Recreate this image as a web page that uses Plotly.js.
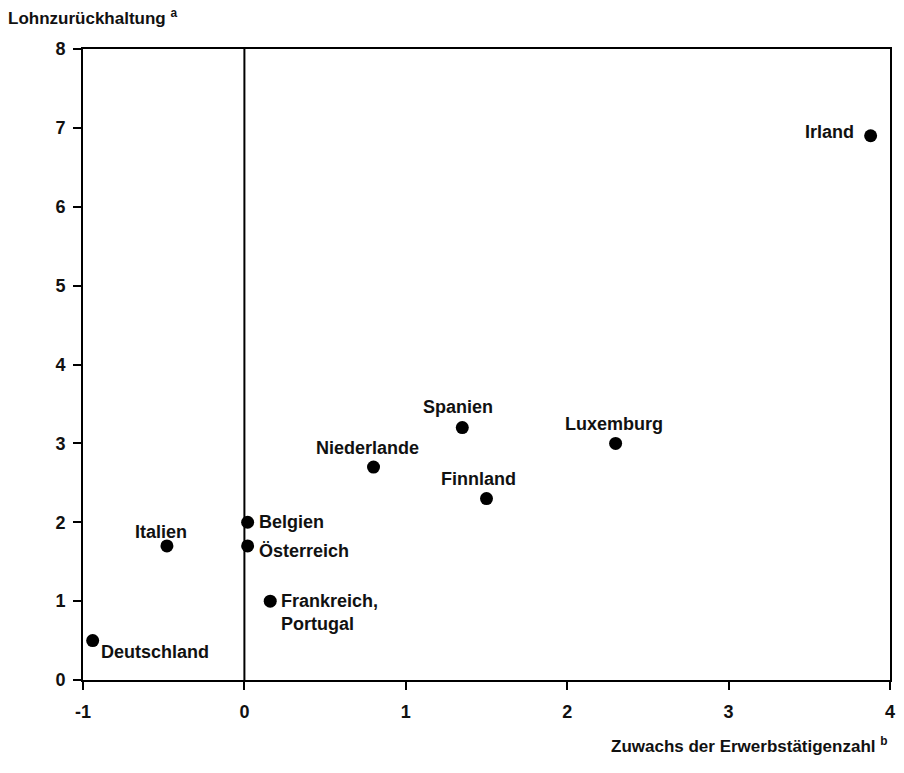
<!DOCTYPE html>
<html>
<head>
<meta charset="utf-8">
<script src="https://cdn.plot.ly/plotly-3.0.1.min.js"></script>
<style>html,body{margin:0;padding:0;background:#fff;}#chart{width:904px;height:773px;}</style>
</head>
<body>
<div id="chart"></div>
<script>
const countries = ["Irland","Luxemburg","Spanien","Niederlande","Finnland","Belgien","Österreich","Italien","Frankreich,<br>Portugal","Deutschland"];
const employmentGrowth = [3.88, 2.30, 1.35, 0.80, 1.50, 0.02, 0.02, -0.48, 0.16, -0.94];
const wageRestraint = [6.9, 3.0, 3.2, 2.7, 2.3, 2.0, 1.7, 1.7, 1.0, 0.5];
const xTicks = [-1, 0, 1, 2, 3, 4];
const yTicks = [0, 1, 2, 3, 4, 5, 6, 7, 8];
// label placement: [xanchor, xshift, yshift]
const labelPlacement = [
  ["right", -15, 4],
  ["center", -2, 19],
  ["center", -4, 21],
  ["center", -6, 19],
  ["center", -8, 20],
  ["left", 9, 0],
  ["left", 9, -5],
  ["center", -6, 14],
  ["left", 9, -11],
  ["left", 6, -11]
];

const fam = "Liberation Sans, Arial, sans-serif";

const annotations = countries.map((c, i) => ({
  x: employmentGrowth[i], y: wageRestraint[i], xref: "x", yref: "y",
  text: "<b>" + c + "</b>", showarrow: false,
  xanchor: labelPlacement[i][0], yanchor: "middle",
  xshift: labelPlacement[i][1], yshift: labelPlacement[i][2],
  align: "left",
  font: {family: fam, size: 18, color: "#111"}
}));
annotations.push({
  xref: "paper", yref: "paper", x: -0.095, y: 1.03, xanchor: "left", yanchor: "bottom",
  text: "<b>Lohnzurückhaltung <sup>a</sup></b>", showarrow: false,
  font: {family: fam, size: 17, color: "#111"}
});
annotations.push({
  xref: "paper", yref: "paper", x: 1.0, y: -0.082, xanchor: "right", yanchor: "top",
  text: "<b>Zuwachs der Erwerbstätigenzahl <sup>b</sup></b>", showarrow: false,
  font: {family: fam, size: 17, color: "#111"}
});

const trace = {
  x: employmentGrowth, y: wageRestraint, type: "scatter", mode: "markers",
  marker: {size: 13, color: "#000"}, hoverinfo: "skip", cliponaxis: false
};

const axisCommon = {
  showgrid: false, zeroline: false, showline: true, linecolor: "#000", linewidth: 2,
  mirror: true, ticks: "outside", ticklen: 8, tickwidth: 2, tickcolor: "#000",
  tickfont: {family: fam, size: 18, color: "#111", weight: "bold"}
};

const layout = {
  width: 904, height: 773,
  margin: {l: 83, r: 14, t: 49, b: 93},
  paper_bgcolor: "#fff", plot_bgcolor: "#fff",
  showlegend: false,
  xaxis: Object.assign({}, axisCommon, {range: [-1, 4], tickvals: xTicks, ticktext: xTicks.map(String), ticklabelstandoff: 6}),
  yaxis: Object.assign({}, axisCommon, {range: [0, 8], tickvals: yTicks, ticktext: yTicks.map(String), ticklabelstandoff: 4}),
  shapes: [{type: "line", xref: "x", yref: "paper", x0: 0, x1: 0, y0: 0, y1: 1, line: {color: "#000", width: 2}}],
  annotations: annotations
};

Plotly.newPlot("chart", [trace], layout, {staticPlot: true});
</script>
</body>
</html>
